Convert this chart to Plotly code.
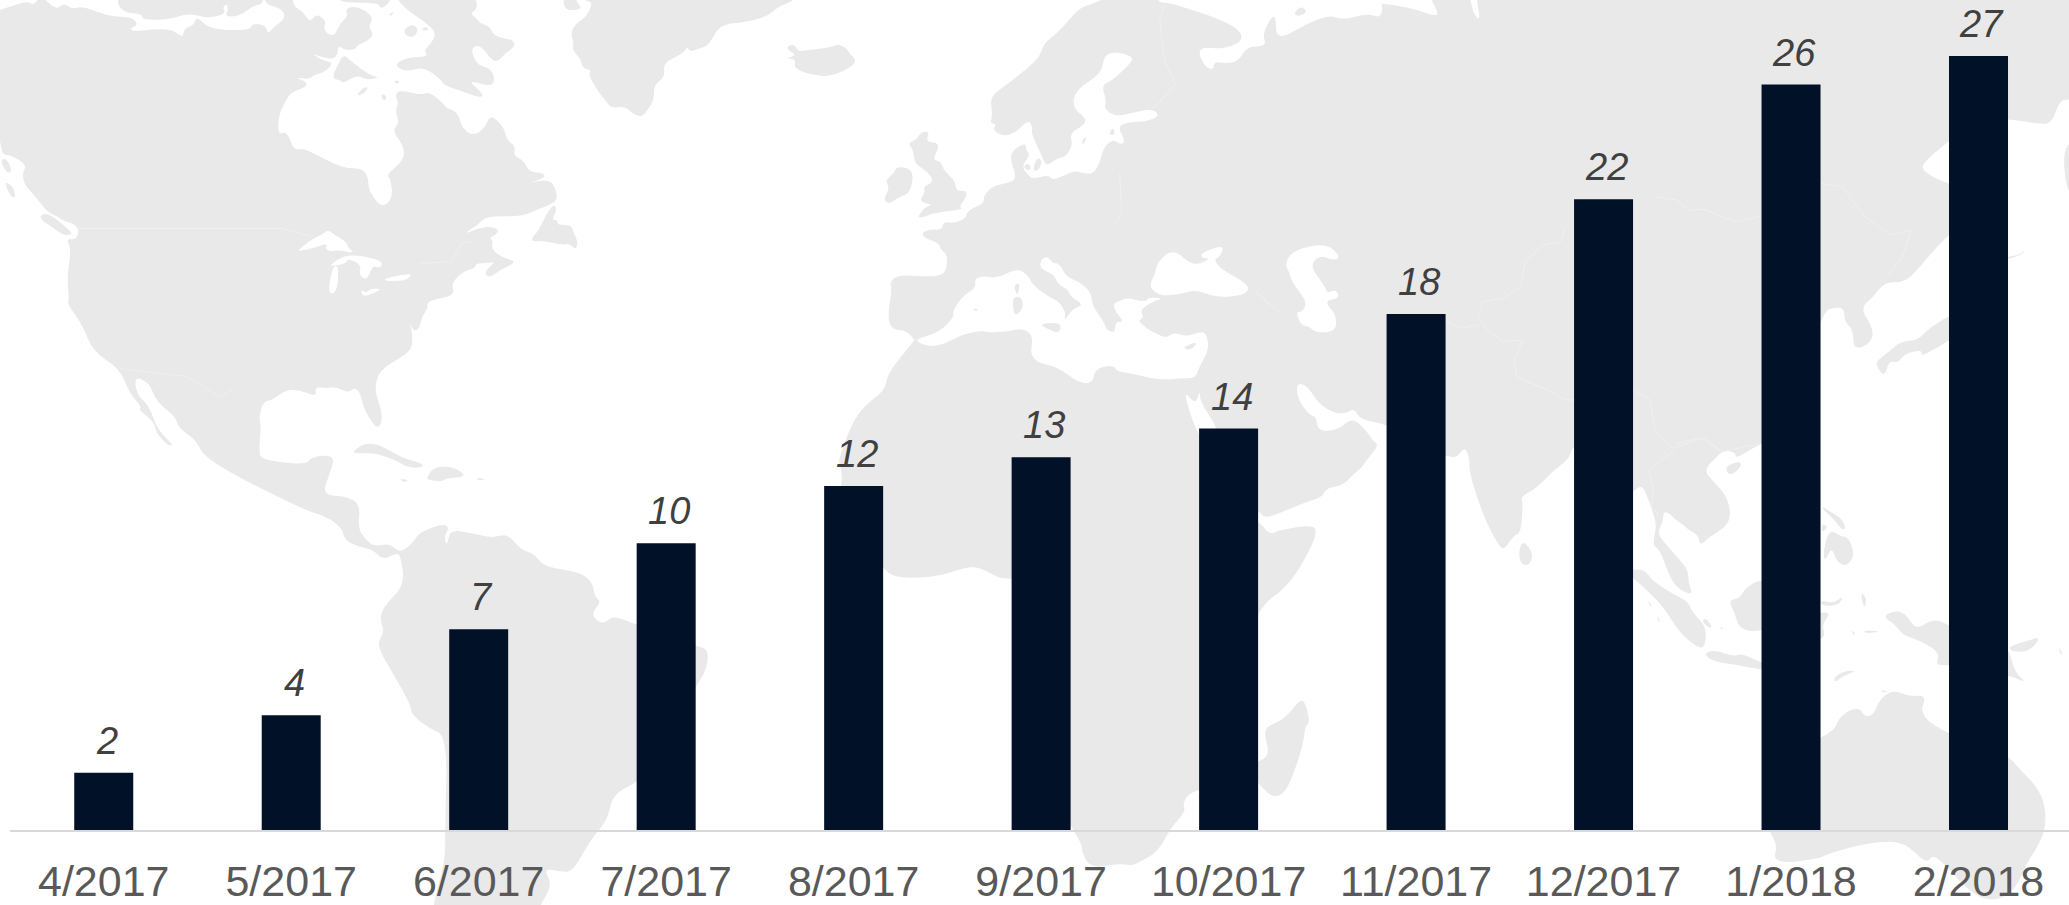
import plotly.graph_objects as go

months = ["4/2017","5/2017","6/2017","7/2017","8/2017","9/2017","10/2017","11/2017","12/2017","1/2018","2/2018"]
counts = [2,4,7,10,12,13,14,18,22,26,27]

W, H = 2069, 905
ML, MB = 10, 75
LAND, SEA = "#E9E9E9", "#FFFFFF"

# Background map traced by hand: each run is (frame, points) in a magnified crop of the canvas
FR = {"A":(0,0,2.24,3),"B":(700,0,2.24,3),"C":(1369,0,2.24,3),"D":(300,445,2.24,3),
      "E":(850,445,2.24,3),"F":(1369,445,2.24,3),"G":(220,0,3,3),"H":(1560,430,3,3),"P":(0,0,1,1)}

LAND_POLYS = [
 # North America
 [("A",[(-5,30),(0,30),(40,12),(62,4),(75,16),(90,-10),(95,-10),(125,30),(145,8),(160,28),(185,18),(245,50),(295,50),(310,75),(290,85),(300,95),(340,88),(385,88),(410,115),(412,85),(435,75),(440,48),(470,88),(560,92),(565,70),(595,75),(600,103),(610,85),(640,55)]),
  ("G",[(185,25),(135,14),(130,-30),(220,-30),(218,18),(250,35),(270,68),(290,40),(320,65),(310,85),(325,105),(345,105),(360,70),(385,48),(375,28),(400,18),(435,30),(460,55),(445,80),(462,105),(440,125),(412,135),(405,150),(372,150),(355,135),(352,165),(338,178),(300,170),(278,160),(295,175),(320,183),(340,190),(312,218),(280,225),(270,238),(222,232),(260,245),(258,262),(215,275),(195,305),(175,350),(175,405),(195,395),(210,415),(222,450)]),
  ("A",[(680,445),(710,465),(770,505),(810,505),(825,530),(825,570),(855,625),(880,595),(875,535),(865,525),(905,480),(905,440),(878,390),(895,370),(885,330),(893,310),(885,285),(895,270),(945,285),(960,275),(990,305),(1000,325),(1025,335),(1035,385),(1060,408),(1085,385),(1095,355),(1105,350),(1130,385),(1135,420),(1155,440),(1150,465),(1175,485),(1185,515),(1220,520),(1220,535),(1175,552),(1235,535),(1250,590),(1240,610),(1200,630),(1170,650),(1090,648),(1070,675),(1035,705),(1085,678),(1115,685),(1115,700),(1095,715),(1105,720),(1100,745),(1120,770),(1160,785),(1120,810),(1095,835),(1085,815),(1110,785),(1095,790),(1065,790),(1065,805),(1040,812),(1010,850),(1020,885),(965,900),(955,915),(960,920),(945,950),(940,985),(925,995),(918,960),(925,1020),(920,1050),(895,1075),(850,1110),(838,1170),(855,1230),(855,1270),(845,1285),(830,1260),(815,1225),(805,1170),(790,1165),(780,1178),(750,1160),(730,1165),(705,1160),(710,1190),(670,1170),(640,1170),(610,1200),(590,1205),(580,1250),(585,1280),(580,1350),(585,1380)]),
  ("D",[(15,60),(25,35),(80,30),(65,90),(50,150),(105,155),(135,178),(130,250),(145,280),(165,305),(200,295),(225,325),(255,290),(265,265),(320,235),(335,250),(322,275),(330,305),(335,255),(380,262),(430,280),(465,265),(495,315),(525,325),(545,365),(625,380),(655,410),(660,455),(675,470),(650,510),(680,540),(700,510),(755,540),(820,570),(890,605),(910,610),(915,640),(905,690),(885,725),(820,950),(755,1010),(700,1050),(690,1120),(660,1170),(640,1210),(610,1280),(585,1280),(545,1270),(565,1320),(540,1375),(530,1420),(298,1420),(298,1380),(325,1250),(325,1150),(330,875),(290,850),(250,810),(248,780),(215,700),(170,600),(190,560),(178,520),(190,480),(235,420),(225,330),(215,325),(185,345),(165,315),(130,305),(100,285),(95,250),(60,215),(0,190)]),
  ("A",[(460,1380),(440,1320),(400,1285),(393,1250),(365,1222),(345,1190),(335,1150),(302,1128),(305,1180),(335,1220),(350,1280),(375,1320),(388,1335),(378,1338),(350,1300),(345,1265),(310,1230),(318,1222),(290,1180),(268,1105),(208,1055),(185,975),(150,910),(155,900),(150,830),(160,750),(148,715),(170,720),(178,690),(165,670),(145,665),(130,650),(105,635),(80,590),(55,555),(50,520),(60,495),(25,465),(-5,460)])],
 # Arctic Canada
 [("G",[(530,-30),(530,0),(575,40),(620,70),(650,100),(630,135),(612,150),(625,170),(570,172),(535,185),(528,200),(560,215),(610,200),(665,240),(670,255),(720,272),(785,295),(788,280),(740,238),(815,262),(825,230),(808,205),(790,200),(770,190),(752,150),(770,135),(790,145),(815,180),(835,185),(855,160),(885,140),(880,120),(850,115),(820,105),(810,80),(780,70),(770,55),(750,40),(775,25),(760,-30)])],
 [("A",[(260,10),(275,-30),(500,-30),(522,10),(497,18),(507,40),(470,55),(440,45),(415,42),(380,58),(320,60),(318,42),(280,38)])],
 [("G",[(40,-30),(20,12),(25,30),(15,48),(45,50),(70,40),(100,17),(130,12),(130,-30)])],
 [("G",[(335,235),(355,190),(370,165),(385,175),(400,190),(450,225),(480,232),(440,240),(410,225),(370,250),(360,240)])],
 [("G",[(350,-10),(365,8),(475,8),(480,25),(495,20),(520,-10)])],
 [("G",[(408,288),(430,262),(447,262),(430,282)])],
 [("G",[(482,285),(495,282),(500,295),(490,303)])],
 [("G",[(550,90),(575,72),(595,85),(585,110),(560,110)])],
 [("G",[(522,245),(532,240),(540,248),(528,252)])],
 [("G",[(505,45),(522,33),(515,48)])],
 [("G",[(605,85),(620,80),(627,90),(610,92)])],
 # Pacific islands, Newfoundland, Caribbean
 [("A",[(12,545),(30,560),(35,595),(25,590),(15,565)])],
 [("A",[(0,480),(15,475),(28,515),(15,520)])],
 [("A",[(90,645),(110,640),(160,695),(160,705),(140,705),(115,680),(92,660)])],
 [("A",[(1190,715),(1205,695),(1225,640),(1240,612),(1248,630),(1235,660),(1250,660),(1248,675),(1280,675),(1285,700),(1295,725),(1290,750),(1275,730),(1260,735),(1215,722),(1195,725)])],
 [("D",[(115,25),(140,-4),(175,-4),(230,40),(275,55),(275,68),(240,68),(215,45),(170,25),(140,25)])],
 [("D",[(285,95),(300,65),(345,65),(375,95),(325,100),(320,110),(285,105)])],
 [("D",[(222,100),(245,105),(232,113)])],
 [("D",[(395,97),(418,103),(400,107)])],
 # Greenland and Iceland
 [("A",[(1262,-30),(1262,0),(1265,25),(1280,32),(1305,25),(1290,5),(1290,-30)])],
 [("A",[(1305,-40),(1305,0),(1330,8),(1310,55),(1290,70),(1278,100),(1285,125),(1282,150),(1300,175),(1305,205),(1325,210),(1318,225),(1340,275),(1355,300),(1370,325),(1400,318),(1420,345),(1440,350),(1450,330),(1465,300),(1465,255),(1490,230),(1485,190),(1530,160),(1540,140),(1545,155),(1568,145)]),
  ("B",[(0,145),(20,135),(40,85),(65,70),(95,68),(150,50),(175,20),(215,0),(215,-40)])],
 [("B",[(190,145),(210,130),(220,155),(240,150),(260,148),(300,140),(308,132),(330,145),(333,160),(352,180),(335,205),(290,230),(250,225),(210,205),(215,178),(192,175),(218,165)])],
 # Eurasia and Africa
 [("B",[(905,-60),(905,-4),(885,8),(850,25),(830,55),(800,100),(770,130),(760,175),(710,230),(680,260),(650,290),(655,345),(650,370),(665,372),(655,390),(680,410),(710,395),(735,360),(745,380),(742,400),(765,465),(775,500),(800,475),(820,470),(835,435),(828,400),(860,375),(865,355),(835,325),(840,270),(900,220),(905,165),(935,155),(970,170),(965,190),(920,245),(900,255),(910,300),(905,325),(930,350),(965,340),(1015,325),(1030,350),(995,365),(960,365),(935,380),(952,420),(945,435),(925,418),(905,440),(895,490),(880,522),(860,520),(838,512),(810,530),(790,540),(780,525),(745,537),(735,525),(720,500),(740,465),(730,450),(730,428),(700,450),(695,480),(710,535),(690,550),(660,555),(635,585),(637,610),(600,630),(595,655),(570,670),(545,665),(542,690),(515,688),(495,700),(505,715),(535,730),(540,750),(555,765),(550,830),(485,828),(445,825),(425,845),(430,870),(420,950),(430,990),(460,990),(480,1018),(480,1022),(420,1120),(415,1170),(370,1215),(340,1270),(310,1380)]),
  ("D",[(1210,60),(1215,100),(1210,125),(1240,250),(1307,375),(1340,400),(1435,395),(1510,357),(1565,400)]),
  ("E",[(363,400),(420,420),(430,800),(440,1100),(495,1140),(500,1155),(520,1200),(520,1225),(540,1270),(600,1255),(630,1262),(650,1250),(690,1220),(720,1145),(752,1100),(745,1075),(760,1045),(783,1035),(850,1000),(850,700),(915,487),(980,425),(1020,340),(1045,270),(1040,238),(960,255),(940,270),(915,225),(850,210),(915,195),(925,215),(940,215),(970,200),(1020,172),(1060,155),(1065,130),(1105,120),(1130,85),(1145,70),(1160,40),(1185,0)]),
  ("B",[(1505,1320),(1500,1305),(1463,1250),(1430,1290),(1385,1295),(1380,1250),(1365,1245),(1340,1200),(1335,1150),(1360,1155),(1385,1210),(1420,1240),(1450,1240),(1465,1225),(1480,1260),(1540,1272)]),
  ("C",[(100,1330)]),
  ("F",[(100,30),(172,30),(195,40),(215,5),(225,40),(225,80),(240,150),(265,240),(295,310),(305,310),(325,270),(340,265),(345,175),(340,155),(375,130),(410,80),(450,40),(455,0),(520,0),(520,200)]),
  ("H",[(220,185),(245,165),(262,200),(280,250),(290,290),(277,345),(300,360),(325,430),(350,475),(400,497),(385,460),(385,420),(355,385),(315,340),(292,310),(310,270),(310,245),(330,250),(340,265),(372,285),(385,300),(415,315),(420,348),(450,320),(505,285),(512,240),(495,190),(455,150),(432,120),(470,80),(490,62),(525,65),(528,85),(560,65),(606,40),(700,-10)]),
  ("C",[(1012,935),(1050,920),(1065,930),(1065,965),(1085,990),(1085,1050),(1125,1030),(1130,985),(1100,925),(1130,890),(1155,845),(1200,848),(1235,800),(1275,735),(1320,680),(1320,560),(1270,537),(1240,510),(1240,490),(1300,420),(1366,360),(1432,356),(1500,372),(1530,370),(1545,305),(1568,295),(1700,295),(1700,100),(1700,-70),(240,-70),(240,-10),(250,62),(235,45),(225,-10),(225,-70),(135,-70),(135,-10),(162,55),(110,30),(60,15),(20,10)]),
  ("B",[(1530,10),(1525,55),(1495,40),(1440,60),(1410,45),(1360,70),(1310,110),(1290,105),(1290,50),(1280,50),(1260,105),(1268,130),(1255,140),(1225,140),(1205,185),(1175,190),(1152,185),(1150,210),(1130,200),(1112,140),(1180,148),(1222,115),(1190,70),(1060,10),(1030,8),(1025,-4),(1025,-60)])],
 [("C",[(1650,420),(1575,420),(1555,455),(1560,550),(1575,595),(1650,595)])],
 [("B",[(1330,40),(1345,18),(1362,35),(1340,50)])],
]

SEA_POLYS = [
 # Great Lakes and Gulf of St Lawrence pockets
 [("A",[(665,755),(690,725),(725,700),(735,690),(750,705),(775,725),(780,745),(795,760),(760,750),(740,755),(728,745),(735,730),(700,745),(680,750)])],
 [("A",[(780,775),(810,795),(803,825),(822,842),(835,795),(850,805),(858,790),(840,775),(795,765),(765,770),(735,800),(758,795),(775,790)])],
 [("A",[(735,870),(745,800),(758,795),(757,860),(745,885)])],
 [("A",[(810,868),(820,880),(830,865),(858,868),(820,888),(810,885)])],
 [("A",[(862,835),(920,820),(920,830),(905,843),(862,843)])],
 [("A",[(1110,660),(1130,660),(1150,680),(1130,685)])],
 [("A",[(1115,745),(1145,755),(1140,770),(1120,760)])],
 [("A",[(1160,770),(1170,745),(1180,770),(1170,778)])],
 [("A",[(828,570),(845,572),(848,582),(830,578)])],
 # Mediterranean, Black Sea, Caspian, Red Sea
 [("B",[(480,1018),(535,998),(570,950),(565,935),(590,885),(618,865),(615,835),(635,828),(665,835),(710,805),(735,825),(745,855),(780,890),(805,905),(820,940),(815,965),(835,925),(860,915),(830,890),(825,870),(800,850),(795,825),(760,805),(765,775),(780,770),(790,790),(805,790),(820,830),(850,845),(875,875),(880,920),(905,965),(910,990),(930,998),(930,965),(950,965),(930,935),(925,910),(945,900),(960,893),(990,905),(1030,897),(985,925),(995,955),(980,960),(1000,985),(1020,1000),(1045,1015),(1060,997),(1090,1010),(1120,995),(1135,1000),(1140,1050),(1120,1095),(1110,1135),(1075,1135),(1030,1140),(965,1120),(935,1115),(925,1095),(885,1105),(880,1150),(850,1150),(800,1100),(760,1090),(740,1065),(745,1020),(740,1000),(720,985),(695,993),(655,998),(630,992),(585,1005),(535,1040),(500,1035)])],
 [("B",[(1005,860),(1020,820),(1025,785),(1060,745),(1105,800),(1145,775),(1125,775),(1120,760),(1175,733),(1165,770),(1150,780),(1170,810),(1225,850),(1230,875),(1200,890),(1150,890),(1110,868),(1070,885),(1030,887)])],
 [("B",[(1310,795),(1325,755),(1380,733),(1415,740),(1435,775),(1415,780),(1390,765),(1365,795),(1400,860),(1405,880),(1425,868),(1432,895),(1405,900),(1405,915),(1425,945),(1425,995),(1380,998),(1365,980),(1345,975),(1335,935),(1350,935),(1360,905),(1325,845),(1322,820)])],
 [("B",[(1080,1165),(1110,1215),(1120,1170),(1120,1205),(1155,1275),(1155,1290),(1200,1400),(1120,1330)])],
 [("B",[(1000,900),(1005,893),(1030,893),(1032,900),(1000,905)])],
]

ISLES = [
 [("B",[(855,440),(868,410),(858,415)])],
 [("B",[(915,405),(925,380),(930,405)])],
 [("B",[(745,510),(755,470),(768,485),(755,515)])],
 [("B",[(726,495),(738,490),(742,510),(728,508)])],
 [("B",[(485,420),(495,395),(515,395),(505,425),(540,430),(520,480),(540,485),(545,510),(570,540),(575,575),(595,570),(598,590),(580,620),(590,628),(520,640),(505,650),(485,655),(505,620),(522,615),(490,605),(505,575),(500,560),(525,545),(510,515),(480,490),(478,450),(465,430)])],
 [("B",[(410,600),(425,565),(415,540),(435,520),(440,500),(470,505),(478,530),(470,580),(440,595),(425,612)])],
 [("B",[(765,970),(810,968),(805,1000),(785,990),(768,980)])],
 [("B",[(700,890),(720,890),(725,920),(712,945),(702,940)])],
 [("B",[(703,855),(717,848),(712,885),(708,880)])],
 [("B",[(610,928),(622,925),(620,935)])],
 [("B",[(1082,1040),(1115,1025),(1105,1045),(1090,1050)])],
 [("E",[(930,850),(950,835),(975,820),(1010,760),(1022,780),(1030,835),(1020,840),(1015,900),(990,1000),(970,1050),(945,1055),(925,1030),(880,960),(930,945),(938,915),(930,880)])],
 [("F",[(345,285),(368,325),(360,360),(340,360),(335,320)])],
 [("H",[(495,115),(515,100),(545,95),(540,115),(510,138)])],
 [("H",[(505,510),(540,505),(555,475),(606,445),(700,470),(700,600),(606,600),(570,605),(535,590),(525,550)])],
 [("H",[(783,510),(820,520),(850,498),(840,520),(815,528),(783,525)])],
 [("H",[(760,550),(815,545),(785,585),(798,620),(760,635)])],
 [("H",[(785,228),(810,245),(845,265),(858,295),(845,300),(820,265),(790,240)])],
 [("H",[(785,280),(805,290),(785,310)])],
 [("H",[(800,320),(815,300),(840,320),(865,320),(885,375),(860,410),(830,395),(815,350),(795,395),(790,370)])],
 [("H",[(222,418),(255,420),(275,450),(335,490),(385,515),(395,545),(440,590),(435,650),(415,655),(360,610),(310,530),(270,490),(222,445),(180,420)])],
 [("H",[(430,670),(465,660),(520,680),(545,670),(606,700),(700,720),(606,720),(530,705),(460,695)])],
 [("H",[(263,510),(275,525),(270,530)])],
 [("H",[(290,555),(302,575),(295,575)])],
 [("H",[(480,590),(490,595),(485,600)])],
 [("H",[(425,570),(440,565),(458,595),(440,590)])],
 [("F",[(1040,700),(1060,680),(1095,675),(1060,695),(1045,712)])],
 [("F",[(1145,735),(1165,740),(1150,742)])],
 [("F",[(1100,440),(1115,460),(1110,495)])],
 [("F",[(1080,555),(1090,565),(1085,572)])],
 [("F",[(1110,555),(1150,560),(1110,565)])],
 [("F",[(1150,515),(1180,495),(1205,510),(1225,555),(1265,520),(1300,540),(1360,590),(1432,600),(1445,680),(1475,715),(1432,690),(1300,660),(1268,660),(1280,625),(1240,590),(1195,570),(1180,540)])],
 [("F",[(1432,605),(1480,585),(1505,575),(1480,620),(1440,620)])],
 [("F",[(1545,605),(1555,630),(1548,625)])],
 [("F",[(1012,880),(1045,850),(1050,825),(1075,795),(1100,790),(1110,815),(1130,810),(1145,760),(1175,735),(1210,755),(1250,750),(1232,810),(1300,870),(1432,930),(1455,970),(1500,1030),(1518,1100),(1510,1180),(1470,1260),(1450,1330),(1405,1370),(1350,1350),(1265,1220),(1250,1260),(1200,1190),(1130,1190),(1040,1220),(1000,1245),(905,1255),(915,1200),(895,1155),(880,1075),(880,965)])],
 [("C",[(1135,1085),(1165,1055),(1190,1025),(1230,1020),(1250,990),(1300,945),(1400,900),(1400,960),(1300,1020),(1270,1045),(1235,1070),(1240,1050),(1200,1060),(1185,1090),(1165,1080),(1155,1130),(1140,1105)])],
 [("C",[(1430,770),(1458,765),(1470,748),(1465,762),(1432,778)])],
]

BORDERS = [
 ("C",[(640,590),(690,600),(715,630),(750,628),(820,665),(880,648)]),
 ("C",[(440,680),(430,725),(390,735),(350,785),(340,860),(300,895),(255,905),(245,950),(265,990),(300,1025),(345,1020),(325,1080),(330,1130),(400,1170),(440,1200),(460,1200)]),
 ("C",[(1012,550),(1060,560),(1110,650),(1170,705),(1215,690),(1195,770),(1160,830)]),
 ("C",[(172,960),(205,985),(245,975)]),
 ("C",[(592,1170),(630,1200),(640,1290),(680,1345),(745,1315),(790,1355),(880,1330)]),
 ("B",[(1040,15),(1030,60),(1040,180),(1065,255),(1015,325)]),
 ("B",[(940,520),(945,640),(925,680)]),
 ("B",[(1240,870),(1300,940)]),
 ("A",[(170,685),(630,685),(700,710)]),
 ("A",[(268,1105),(420,1130),(490,1190),(520,1170)]),
 ("A",[(940,790),(1010,785),(1035,730),(1060,725)]),
 ("H",[(345,60),(290,100),(265,120),(280,170),(275,230),(300,260)]),
 ("H",[(350,40),(430,22),(480,60)]),
]


def to_paper(px, py):
    return (px - ML) / (W - ML), 1 - py / (H - MB)


def canvas_points(frame, run):
    x0, y0, sx, sy = FR[frame]
    return [(x0 + x / sx, y0 + y / sy) for x, y in run]


def smooth_path(poly):
    pts = []
    for frame, run in poly:
        pts += canvas_points(frame, run)
    n = len(pts)
    mids = [((pts[i][0] + pts[(i + 1) % n][0]) / 2, (pts[i][1] + pts[(i + 1) % n][1]) / 2) for i in range(n)]
    mx, my = to_paper(*mids[-1])
    d = [f"M{mx:.5f},{my:.5f}"]
    for i in range(n):
        cx, cy = to_paper(*pts[i])
        ex, ey = to_paper(*mids[i])
        d.append(f"Q{cx:.5f},{cy:.5f} {ex:.5f},{ey:.5f}")
    return "".join(d) + "Z"


def open_path(frame, run):
    pts = [to_paper(x, y) for x, y in canvas_points(frame, run)]
    return "M" + "L".join(f"{x:.5f},{y:.5f}" for x, y in pts)


shapes = []
for polys, col in ((LAND_POLYS, LAND), (SEA_POLYS, SEA), (ISLES, LAND)):
    for poly in polys:
        shapes.append(dict(type="path", path=smooth_path(poly), xref="paper", yref="paper",
                           fillcolor=col, line=dict(width=0), layer="below"))
for frame, run in BORDERS:
    shapes.append(dict(type="path", path=open_path(frame, run), xref="paper", yref="paper",
                       line=dict(width=1, color="#F0F0F0"), layer="below"))

fig = go.Figure(go.Bar(x=months, y=counts, marker=dict(color="#001128", line=dict(width=0)),
                       width=59 / 187.5, hoverinfo="skip"))

annotations = [dict(x=m, y=v, text=str(v), showarrow=False, xanchor="center", yanchor="bottom",
                    xshift=3, yshift=9, font=dict(family="Liberation Sans", size=38, color="#404040", style="italic"))
               for m, v in zip(months, counts)]

fig.update_layout(
    width=W, height=H, margin=dict(l=ML, r=0, t=0, b=MB, pad=0),
    paper_bgcolor="#FFFFFF", plot_bgcolor="rgba(0,0,0,0)", showlegend=False,
    shapes=shapes, annotations=annotations,
    xaxis=dict(type="category", categoryorder="array", categoryarray=months, range=[-0.5, (W - 103.5) / 187.5],
               showgrid=False, zeroline=False, showline=True, linecolor="#D9D9D9", linewidth=2,
               ticks="outside", ticklen=12, tickcolor="rgba(0,0,0,0)",
               tickfont=dict(family="Liberation Sans", size=43, color="#595959")),
    yaxis=dict(range=[0, 830 / 28.67], visible=False, fixedrange=True),
)

fig.write_html("out.html", config={"displayModeBar": False},
               post_script="document.body.style.margin='0';document.body.style.overflow='hidden';")
